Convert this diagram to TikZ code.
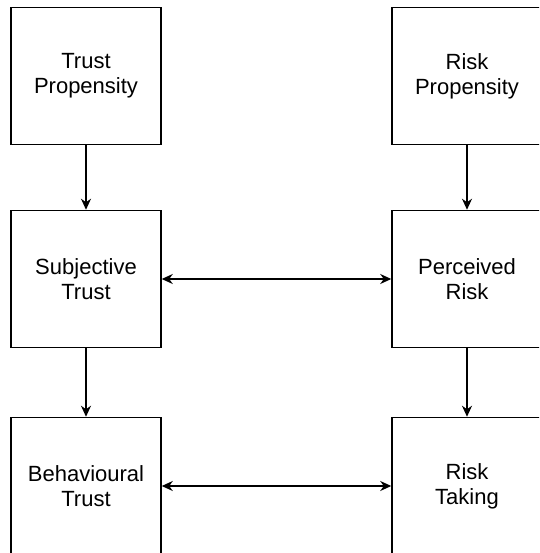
\documentclass[tikz,border=0pt]{standalone}
\usepackage{fontspec}
\setmainfont{Liberation Sans}
\usetikzlibrary{arrows.meta}
\tikzset{
  box/.style={draw=black, line width=1.5pt, minimum width=150pt, minimum height=137pt,
    align=center, inner sep=0pt, font=\fontsize{22}{25}\selectfont},
  tip/.style={Stealth[length=11pt,width=10pt,inset=3.5pt]},
  conn/.style={line width=1.4pt, -{Stealth[length=11pt,width=10pt,inset=3.5pt]}},
  biconn/.style={line width=1.4pt, {Stealth[length=11pt,width=10pt,inset=3.5pt]}-{Stealth[length=11pt,width=10pt,inset=3.5pt]}}
}
\begin{document}
\begin{tikzpicture}[x=1pt,y=-1pt]
\useasboundingbox (0,0) rectangle (539,553);
\clip (0,0) rectangle (539,553);
\fill[white] (0,0) rectangle (539,553);
\node[box] (tp) at (86,76) {Trust\\Propensity};
\node[box] (rp) at (467,76) {Risk\\Propensity};
\node[box] (st) at (86,279) {Subjective\\Trust};
\node[box] (pr) at (467,279) {Perceived\\Risk};
\node[box] (bt) at (86,486) {Behavioural\\Trust};
\node[box] (rt) at (467,486) {Risk\\Taking};
\draw[conn] (tp) -- (st);
\draw[conn] (rp) -- (pr);
\draw[conn] (st) -- (bt);
\draw[conn] (pr) -- (rt);
\draw[biconn] (st) -- (pr);
\draw[biconn] (bt) -- (rt);
\end{tikzpicture}
\end{document}
